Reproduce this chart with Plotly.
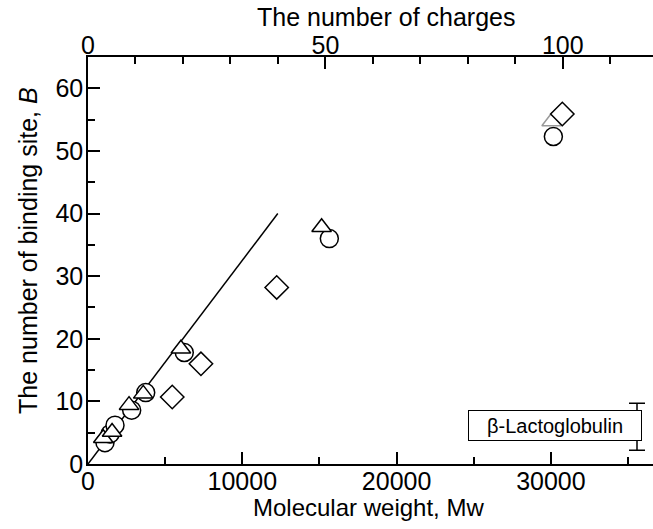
import plotly.graph_objects as go

# ---- data ----
circle_x = [1100, 1430, 1750, 2830, 3740, 6240, 15640, 30160]
circle_y = [3.4, 4.8, 6.2, 8.6, 11.4, 17.8, 36.0, 52.3]

triangle_x = [990, 1560, 2660, 3580, 6020, 15140]
triangle_y = [4.1, 5.1, 9.4, 11.2, 18.4, 37.8]

gray_triangle_x = [30050]
gray_triangle_y = [54.7]

diamond_x = [5460, 7320, 12230, 30740]
diamond_y = [10.7, 16.0, 28.2, 55.9]

fit_x = [0, 12300]
fit_y = [0, 40]

errbar_x = [35580]
errbar_y = [5.95]
errbar_err = [3.75]

x_ticks = [0, 10000, 20000, 30000]
y_ticks = [0, 10, 20, 30, 40, 50, 60]
top_ticks = [0, 50, 100]

FONT = "Liberation Sans, Arial, sans-serif"

fig = go.Figure()

fig.add_trace(go.Scatter(x=fit_x, y=fit_y, mode="lines",
                         line=dict(color="black", width=1.5), showlegend=False))
fig.add_trace(go.Scatter(x=errbar_x, y=errbar_y, mode="markers",
                         marker=dict(size=1, color="rgba(0,0,0,0)"),
                         error_y=dict(type="data", array=errbar_err, color="black",
                                      thickness=1.5, width=8),
                         showlegend=False))
fig.add_trace(go.Scatter(x=circle_x, y=circle_y, mode="markers",
                         marker=dict(symbol="circle", size=18, color="white",
                                     line=dict(color="black", width=1.5)),
                         showlegend=False))
fig.add_trace(go.Scatter(x=triangle_x, y=triangle_y, mode="markers",
                         marker=dict(symbol="triangle-up", size=17, color="white",
                                     line=dict(color="black", width=1.5)),
                         showlegend=False))
fig.add_trace(go.Scatter(x=gray_triangle_x, y=gray_triangle_y, mode="markers",
                         marker=dict(symbol="triangle-up", size=17, color="white",
                                     line=dict(color="#999999", width=1.5)),
                         showlegend=False))
fig.add_trace(go.Scatter(x=diamond_x, y=diamond_y, mode="markers",
                         marker=dict(symbol="diamond", size=18, color="white",
                                     line=dict(color="black", width=1.5)),
                         showlegend=False))
# invisible trace to activate the top axis
fig.add_trace(go.Scatter(x=[0], y=[0], xaxis="x2", mode="markers",
                         marker=dict(size=1, color="rgba(0,0,0,0)"),
                         showlegend=False, hoverinfo="skip"))

axis_common = dict(showline=True, linecolor="black", linewidth=1.5,
                   ticks="inside", ticklen=12, tickwidth=1.5, tickcolor="black",
                   showgrid=False, zeroline=False, automargin=False,
                   tickfont=dict(family=FONT, size=25, color="black"))

fig.update_layout(
    width=653, height=529,
    margin=dict(l=88, r=0, t=57, b=65),
    plot_bgcolor="white", paper_bgcolor="white",
    xaxis=dict(range=[0, 36617], tickvals=x_ticks, tickformat="d",
               ticklabelstandoff=-6,
               minor=dict(dtick=5000, ticklen=7, ticks="inside", tickcolor="black", tickwidth=1.5),
               **axis_common),
    xaxis2=dict(range=[0, 119.0], tickvals=top_ticks, overlaying="x", side="top",
                ticklabelstandoff=-9,
                minor=dict(dtick=10, ticklen=7, ticks="inside", tickcolor="black", tickwidth=1.5),
                **axis_common),
    yaxis=dict(range=[0, 65.0], tickvals=y_ticks, ticklabelstandoff=-2,
               minor=dict(dtick=5, ticklen=7, ticks="inside", tickcolor="black", tickwidth=1.5),
               **axis_common),
)

fig.add_annotation(x=30266, y=6.15, xref="x", yref="y",
                   text="β-Lactoglobulin", showarrow=False,
                   font=dict(family=FONT, size=20, color="black"),
                   bgcolor="white", bordercolor="black", borderwidth=1,
                   borderpad=3, width=166, height=23)

fig.add_annotation(x=-0.1062, y=0.526, xref="paper", yref="paper",
                   text="The number of binding site, <i>B</i>", textangle=-90,
                   showarrow=False, xanchor="center", yanchor="middle",
                   font=dict(family=FONT, size=25, color="black"))
fig.add_annotation(x=0.4956, y=-0.108, xref="paper", yref="paper",
                   text="Molecular weight, Mw", showarrow=False,
                   xanchor="center", yanchor="middle",
                   font=dict(family=FONT, size=24, color="black"))
fig.add_annotation(x=0.527, y=1.098, xref="paper", yref="paper",
                   text="The number of charges", showarrow=False,
                   xanchor="center", yanchor="middle",
                   font=dict(family=FONT, size=25, color="black"))

fig.write_html("out.html")
